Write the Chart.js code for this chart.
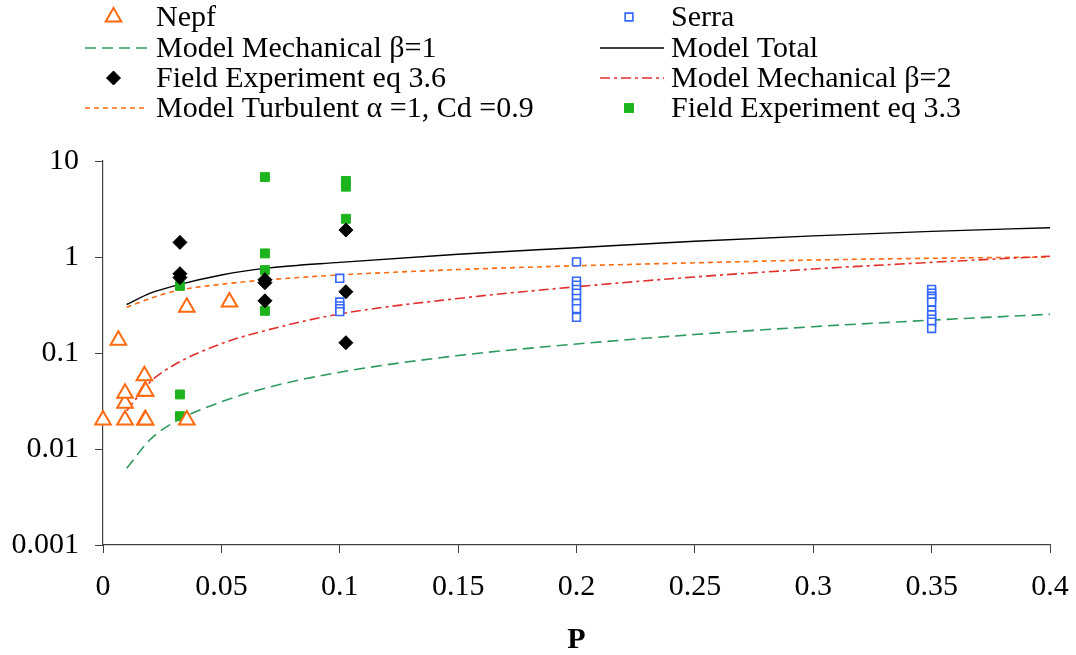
<!DOCTYPE html>
<html>
<head>
<meta charset="utf-8">
<script src="https://cdn.jsdelivr.net/npm/chart.js@4.4.1/dist/chart.umd.min.js"></script>
<style>
  html, body { margin: 0; padding: 0; background: #fff; }
  #wrap { width: 1076px; height: 655px; }
</style>
</head>
<body>
<div id="wrap"><canvas id="grafica"></canvas></div>
<script>
// ticks
const xTicks = [0, 0.05, 0.1, 0.15, 0.2, 0.25, 0.3, 0.35, 0.4];
const xTickLabels = ["0", "0.05", "0.1", "0.15", "0.2", "0.25", "0.3", "0.35", "0.4"];
const yTicks = [0.001, 0.01, 0.1, 1, 10];
const yTickLabels = ["0.001", "0.01", "0.1", "1", "10"];

// Nepf
const nepfP = [0, 0.0093, 0.0093, 0.0093, 0.0177, 0.018, 0.0177, 0.018, 0.0175, 0.0065, 0.0354, 0.0354, 0.0534];
const nepfV = [0.02, 0.02, 0.03, 0.038, 0.02, 0.02, 0.04, 0.04, 0.058, 0.136, 0.02, 0.30, 0.34];

// Serra
const serraP = [0.1, 0.1, 0.1, 0.1, 0.1,
  0.2, 0.2, 0.2, 0.2, 0.2, 0.2, 0.2, 0.2, 0.2,
  0.35, 0.35, 0.35, 0.35, 0.35, 0.35, 0.35, 0.35, 0.35, 0.35];
const serraV = [0.6, 0.34, 0.31, 0.29, 0.27,
  0.89, 0.56, 0.51, 0.46, 0.42, 0.37, 0.33, 0.29, 0.235,
  0.46, 0.42, 0.39, 0.37, 0.34, 0.28, 0.25, 0.225, 0.21, 0.18];

// Field Experiment eq 3.6
const field36P = [0.0325, 0.0325, 0.0325, 0.0684, 0.0684, 0.0684, 0.1026, 0.1026, 0.1026];
const field36V = [1.42, 0.67, 0.61, 0.58, 0.54, 0.35, 1.91, 0.435, 0.128];

// Field Experiment eq 3.3
const field33P = [0.0325, 0.0325, 0.0325, 0.0684, 0.0684, 0.0684, 0.0684, 0.1026, 0.1026, 0.1026];
const field33V = [0.50, 0.037, 0.022, 6.8, 1.09, 0.73, 0.275, 6.2, 5.4, 2.5];

// models
const modelP = [0.01, 0.02, 0.03, 0.05, 0.07, 0.1, 0.15, 0.2, 0.25, 0.3, 0.35, 0.4];
const mech1V = [0.0063, 0.0126, 0.019, 0.031, 0.044, 0.063, 0.094, 0.124, 0.156, 0.188, 0.22, 0.253];
const totalV = [0.32, 0.42, 0.50, 0.65, 0.77, 0.88, 1.07, 1.25, 1.46, 1.66, 1.85, 2.02];
const mech2V = [0.025, 0.05, 0.075, 0.125, 0.175, 0.255, 0.37, 0.49, 0.62, 0.75, 0.88, 1.02];
const turbV = [0.30, 0.37, 0.44, 0.52, 0.58, 0.65, 0.74, 0.81, 0.87, 0.93, 0.97, 1.0];

const pts = (xs, ys) => xs.map((x, i) => ({ x: x, y: ys[i] }));

const FONT = "'Liberation Serif', 'Times New Roman', serif";

function puntos(label, xs, ys, style, color, fill, r, bw) {
  return {
    type: 'scatter', label: label, data: pts(xs, ys), order: 0, clip: false,
    pointStyle: style, pointRadius: r, pointHoverRadius: r,
    pointBorderColor: color, pointBackgroundColor: fill, pointBorderWidth: bw,
    borderColor: color, backgroundColor: fill
  };
}
function linea(label, ys, color, dash, w) {
  return {
    type: 'line', label: label, data: pts(modelP, ys), order: 1,
    borderColor: color, backgroundColor: color, borderWidth: w, borderDash: dash,
    pointRadius: 0, fill: false, cubicInterpolationMode: 'monotone', showLine: true
  };
}

// row-major: left column then right column
const datasets = [
  puntos('Nepf', nepfP, nepfV, 'triangle', '#ff6a10', '#ffffff', 9, 2),
  puntos('Serra', serraP, serraV, 'rect', '#3366ff', '#ffffff', 5.5, 1.6),
  linea('Model Mechanical \u03b2=1', mech1V, '#2e9a5e', [11, 6], 1.6),
  linea('Model Total', totalV, '#000000', [], 1.4),
  puntos('Field Experiment eq 3.6', field36P, field36V, 'rectRot', '#000000', '#000000', 7, 1),
  linea('Model Mechanical \u03b2=2', mech2V, '#e0302e', [10, 4, 3, 4], 1.6),
  linea('Model Turbulent \u03b1 =1, Cd =0.9', turbV, '#ff6a10', [5, 4], 1.6),
  puntos('Field Experiment eq 3.3', field33P, field33V, 'rect', '#1db31d', '#1db31d', 6.3, 1)
];

// legend drawn on the canvas, two columns
const leyenda = {
  id: 'leyenda',
  afterDraw(chart) {
    const ctx = chart.ctx;
    const colX = [[85, 148, 156], [600, 664, 671]];
    const rowY = [17, 48, 78, 108];
    ctx.save();
    chart.data.datasets.forEach((ds, i) => {
      const c = colX[i % 2];
      const y = rowY[Math.floor(i / 2)];
      if (ds.type === 'line') {
        ctx.strokeStyle = ds.borderColor;
        ctx.lineWidth = ds.borderWidth;
        ctx.setLineDash(ds.borderDash);
        ctx.beginPath();
        ctx.moveTo(c[0], y);
        ctx.lineTo(c[1], y);
        ctx.stroke();
        ctx.setLineDash([]);
      } else {
        ctx.strokeStyle = ds.pointBorderColor;
        ctx.fillStyle = ds.pointBackgroundColor;
        ctx.lineWidth = ds.pointBorderWidth;
        Chart.helpers.drawPoint(ctx, {
          pointStyle: ds.pointStyle, radius: ds.pointRadius,
          borderWidth: ds.pointBorderWidth, rotation: 0
        }, (c[0] + c[1]) / 2 - 3, y);
      }
      ctx.fillStyle = '#000';
      ctx.font = '30px ' + FONT;
      ctx.textBaseline = 'middle';
      ctx.textAlign = 'left';
      ctx.fillText(ds.label, c[2], y + 1);
    });
    ctx.restore();
  }
};

const ctx = document.getElementById('grafica').getContext('2d');
const chart = new Chart(ctx, {
  type: 'scatter',
  data: { datasets: datasets },
  plugins: [leyenda],
  options: {
    responsive: true,
    maintainAspectRatio: false,
    animation: false,
    layout: { padding: { top: 161, right: 26, bottom: 0, left: 0 } },
    plugins: { legend: { display: false }, tooltip: { enabled: false } },
    scales: {
      x: {
        type: 'linear', min: 0, max: 0.4,
        afterBuildTicks: (s) => { s.ticks = xTicks.map(v => ({ value: v })); },
        afterFit: (s) => { s.height = 110; s.paddingLeft = 0; s.paddingRight = 0; },
        ticks: {
          color: '#000', padding: 19,
          font: { family: FONT, size: 30, lineHeight: 1 },
          callback: (v, i) => xTickLabels[i]
        },
        grid: { display: true, drawOnChartArea: false, drawTicks: true, tickLength: 8, color: '#404040' },
        border: { display: true, color: '#404040', width: 1.2 },
        title: {
          display: true, text: 'P', color: '#000',
          font: { family: FONT, size: 30, weight: 'bold', lineHeight: 1 },
          padding: { top: 25, bottom: 0 }
        }
      },
      y: {
        type: 'logarithmic', min: 0.001, max: 10,
        afterBuildTicks: (s) => { s.ticks = yTicks.map(v => ({ value: v })); },
        afterFit: (s) => { s.width = 103; s.paddingTop = 0; s.paddingBottom = 0; },
        ticks: {
          color: '#000', padding: 16,
          font: { family: FONT, size: 30, lineHeight: 1 },
          callback: (v, i) => yTickLabels[i]
        },
        grid: { display: true, drawOnChartArea: false, drawTicks: true, tickLength: 8, color: '#404040' },
        border: { display: true, color: '#404040', width: 1.2 }
      }
    }
  }
});
</script>
</body>
</html>
